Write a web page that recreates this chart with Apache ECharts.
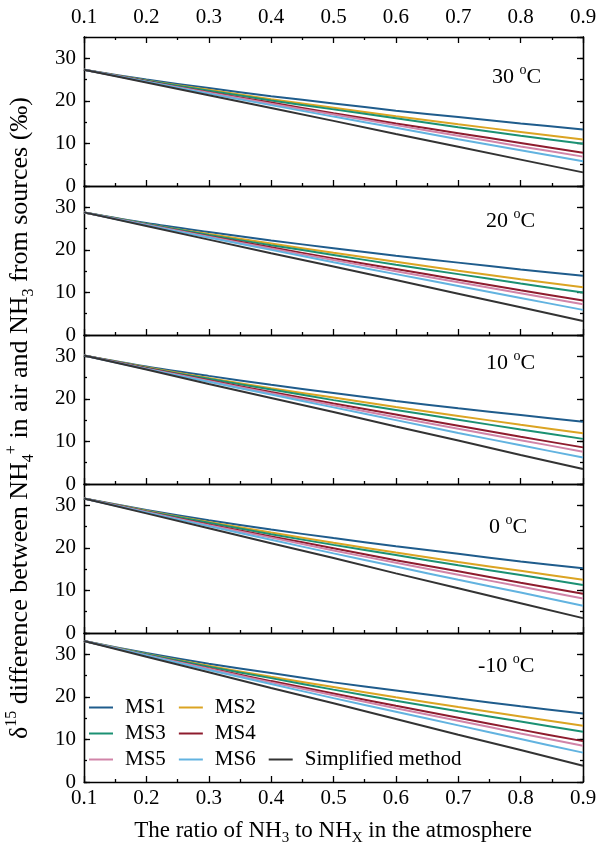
<!DOCTYPE html>
<html>
<head>
<meta charset="utf-8">
<script src="https://cdn.jsdelivr.net/npm/echarts@6/dist/echarts.min.js"></script>
<style>
  html, body { margin: 0; padding: 0; background: #fff; }
  #chart { width: 600px; height: 850px; }
</style>
</head>
<body>
<div id="chart"></div>
<script>
// x values: ratio of NH3 to NHx
const xRatio = [0.1, 0.2, 0.3, 0.4, 0.5, 0.6, 0.7, 0.8, 0.9]
const seriesNames = ['MS1', 'MS2', 'MS3', 'MS4', 'MS5', 'MS6', 'Simplified method']
const tempLabels = ['30', '20', '10', '0', '-10']

// one row per series (MS1..MS6, Simplified), per panel
const d30C = [
  [27.3, 25.0, 23.0, 21.1, 19.4, 17.7, 16.2, 14.7, 13.3],
  [27.3, 24.8, 22.6, 20.4, 18.4, 16.4, 14.5, 12.7, 10.9],
  [27.3, 24.7, 22.4, 20.1, 18.0, 15.9, 13.8, 11.8, 9.9],
  [27.3, 24.6, 22.0, 19.6, 17.1, 14.7, 12.4, 10.1, 7.8],
  [27.3, 24.5, 21.9, 19.3, 16.8, 14.3, 11.8, 9.3, 6.9],
  [27.3, 24.5, 21.7, 19.0, 16.3, 13.7, 11.0, 8.4, 5.8],
  [27.3, 24.3, 21.3, 18.3, 15.3, 12.2, 9.2, 6.2, 3.2]
]
const d20C = [
  [28.8, 26.3, 24.2, 22.2, 20.4, 18.6, 17.0, 15.4, 13.9],
  [28.8, 26.1, 23.7, 21.5, 19.3, 17.2, 15.1, 13.1, 11.2],
  [28.8, 26.1, 23.5, 21.1, 18.8, 16.5, 14.3, 12.1, 10.0],
  [28.8, 25.9, 23.2, 20.6, 18.0, 15.5, 13.0, 10.5, 8.1],
  [28.8, 25.9, 23.1, 20.3, 17.6, 15.0, 12.4, 9.8, 7.2],
  [28.8, 25.8, 22.9, 20.0, 17.1, 14.3, 11.5, 8.7, 5.9],
  [28.8, 25.6, 22.4, 19.2, 16.1, 12.9, 9.7, 6.5, 3.3]
]
const d10C = [
  [30.2, 27.6, 25.4, 23.3, 21.4, 19.5, 17.8, 16.2, 14.6],
  [30.2, 27.4, 24.9, 22.5, 20.3, 18.1, 16.0, 13.9, 11.9],
  [30.2, 27.3, 24.7, 22.2, 19.7, 17.4, 15.1, 12.8, 10.6],
  [30.2, 27.2, 24.4, 21.6, 18.9, 16.3, 13.7, 11.1, 8.6],
  [30.2, 27.1, 24.2, 21.3, 18.5, 15.7, 13.0, 10.3, 7.6],
  [30.2, 27.0, 24.0, 21.0, 18.0, 15.0, 12.0, 9.1, 6.2],
  [30.2, 26.9, 23.5, 20.2, 16.9, 13.5, 10.2, 6.8, 3.5]
]
const d0C = [
  [31.6, 28.9, 26.5, 24.3, 22.3, 20.4, 18.6, 16.8, 15.2],
  [31.6, 28.7, 26.1, 23.6, 21.2, 18.9, 16.7, 14.6, 12.5],
  [31.6, 28.6, 25.9, 23.2, 20.7, 18.3, 15.9, 13.6, 11.3],
  [31.6, 28.5, 25.5, 22.7, 19.9, 17.1, 14.5, 11.8, 9.2],
  [31.6, 28.4, 25.3, 22.4, 19.4, 16.5, 13.7, 10.9, 8.1],
  [31.6, 28.3, 25.1, 21.9, 18.7, 15.6, 12.5, 9.5, 6.4],
  [31.6, 28.1, 24.6, 21.1, 17.6, 14.0, 10.5, 7.0, 3.5]
]
const dm10C = [
  [33.1, 30.3, 27.8, 25.6, 23.4, 21.5, 19.6, 17.8, 16.1],
  [33.1, 30.1, 27.3, 24.7, 22.3, 19.9, 17.6, 15.4, 13.2],
  [33.1, 30.0, 27.1, 24.4, 21.7, 19.1, 16.6, 14.2, 11.8],
  [33.1, 29.8, 26.7, 23.7, 20.8, 17.9, 15.1, 12.3, 9.6],
  [33.1, 29.8, 26.6, 23.4, 20.4, 17.3, 14.4, 11.4, 8.5],
  [33.1, 29.7, 26.3, 23.0, 19.7, 16.5, 13.3, 10.1, 6.9],
  [33.1, 29.4, 25.8, 22.1, 18.5, 14.8, 11.1, 7.5, 3.8]
]
const panels = [d30C, d20C, d10C, d0C, dm10C]

const colors = ['#1f5c8c', '#dba423', '#1b9173', '#8e1c2e', '#d184a8', '#62b3e0', '#333333']
const FONT = 'Liberation Serif'
const labelPos = [[492, 77], [486, 221], [486, 363], [489, 527], [478, 666]]

const gridTop = 37, gridH = 149
const black = { color: '#000', width: 1.3 }
const tickFont = { color: '#000', fontFamily: FONT, fontSize: 21 }

const grid = [], xAxis = [], yAxis = [], series = [], graphic = []

panels.forEach((rows, p) => {
  grid.push({ left: 84, right: 17, top: gridTop + gridH * p, height: gridH })

  // bottom x axis
  xAxis.push({
    type: 'value', gridIndex: p, position: 'bottom', min: 0.1, max: 0.9, interval: 0.1,
    axisLine: { onZero: false, lineStyle: black },
    axisTick: { inside: true, length: 6, lineStyle: black },
    minorTick: { show: true, splitNumber: 2, length: 3, lineStyle: black },
    splitLine: { show: false },
    axisLabel: Object.assign({ show: p === panels.length - 1, margin: 6, formatter: v => v.toFixed(1) }, tickFont)
  })
  // top x axis
  xAxis.push({
    type: 'value', gridIndex: p, position: 'top', min: 0.1, max: 0.9, interval: 0.1,
    axisLine: { onZero: false, lineStyle: black },
    axisTick: { show: p === 0, inside: true, length: 6, lineStyle: black },
    minorTick: { show: p === 0, splitNumber: 2, length: 3, lineStyle: black },
    splitLine: { show: false },
    axisLabel: Object.assign({ show: p === 0, margin: 9, formatter: v => v.toFixed(1) }, tickFont)
  })

  // y axes: minor ticks (every 5) and major ticks with labels (every 10), both sides
  ;['left', 'right'].forEach(side => {
    yAxis.push({
      type: 'value', gridIndex: p, position: side, min: 0, max: 35, interval: 5,
      axisLine: { show: true, onZero: false, lineStyle: black },
      axisTick: { inside: true, length: 3, lineStyle: black },
      axisLabel: { show: false },
      splitLine: { show: false }
    })
    yAxis.push({
      type: 'value', gridIndex: p, position: side, min: 0, max: 35, interval: 10,
      axisLine: { show: true, onZero: false, lineStyle: black },
      axisTick: { inside: true, length: 6, lineStyle: black },
      axisLabel: Object.assign({ show: side === 'left', showMaxLabel: false, margin: 8 }, tickFont),
      splitLine: { show: false }
    })
  })

  rows.forEach((vals, s) => {
    series.push({
      name: seriesNames[s],
      type: 'line',
      xAxisIndex: 2 * p,
      yAxisIndex: 4 * p + 1,
      data: xRatio.map((x, i) => [x, vals[i]]),
      symbol: 'none',
      smooth: s < 6 ? 0.3 : false,
      color: colors[s],
      lineStyle: { width: 2, color: colors[s] },
      z: s === 6 ? 3 : 2
    })
  })

  graphic.push({
    type: 'text', x: labelPos[p][0], y: labelPos[p][1],
    style: {
      text: tempLabels[p] + ' {sup|o}C',
      fontFamily: FONT, fontSize: 22, fill: '#000',
      verticalAlign: 'middle', lineHeight: 27,
      rich: {
        sup: { fontFamily: FONT, fontSize: 14, fill: '#000', verticalAlign: 'top', lineHeight: 15 }
      }
    }
  })
})

// y title
graphic.push({
  type: 'text', x: 20, y: 418, rotation: Math.PI / 2,
  style: {
    text: 'δ{sup|15} difference between NH{sub|4}{sup|+} in air and NH{sub|3} from sources (‰)',
    fontFamily: FONT, fontSize: 26, fill: '#000', align: 'center', verticalAlign: 'middle',
    lineHeight: 33,
    rich: {
      sup: { fontFamily: FONT, fontSize: 16, fill: '#000', verticalAlign: 'top', lineHeight: 16 },
      sub: { fontFamily: FONT, fontSize: 16, fill: '#000', verticalAlign: 'bottom', lineHeight: 16 }
    }
  }
})
// x title
graphic.push({
  type: 'text', x: 333, y: 831,
  style: {
    text: 'The ratio of NH{sub|3} to NH{sub|X} in the atmosphere',
    fontFamily: FONT, fontSize: 23, fill: '#000', align: 'center', verticalAlign: 'middle',
    lineHeight: 29,
    rich: {
      sub: { fontFamily: FONT, fontSize: 15, fill: '#000', verticalAlign: 'bottom', lineHeight: 15 }
    }
  }
})

const legendRows = [['MS1', 'MS2'], ['MS3', 'MS4'], ['MS5', 'MS6', 'Simplified method']]
const legend = legendRows.map((names, r) => ({
  data: names,
  left: 89,
  top: 697 + r * 26,
  orient: 'horizontal',
  padding: 0,
  icon: 'rect',
  itemWidth: 24,
  itemHeight: 2,
  itemGap: 13,
  textStyle: { fontFamily: FONT, fontSize: 21, color: '#000', padding: [0, 0, 0, 7], lineHeight: 21 }
}))

const chart = echarts.init(document.getElementById('chart'))
chart.setOption({
  animation: false,
  backgroundColor: '#fff',
  grid, xAxis, yAxis, series, legend, graphic
})
</script>
</body>
</html>
